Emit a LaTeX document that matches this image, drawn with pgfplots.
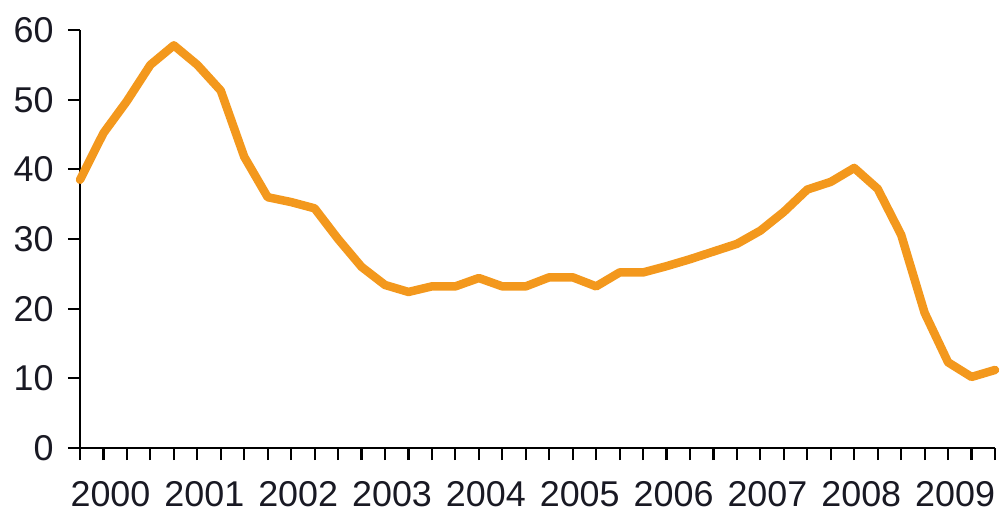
\documentclass[border=0pt]{standalone}
\usepackage{pgfplots}
\pgfplotsset{compat=1.18}
\usepackage{fontspec}
\setmainfont{Liberation Sans}
\definecolor{lineorange}{RGB}{243,152,29}
\definecolor{txt}{RGB}{25,25,35}
\begin{document}
\begin{tikzpicture}
\useasboundingbox (0,0) rectangle (1001bp,513bp);
\begin{axis}[
  at={(80bp,65bp)}, anchor=south west,
  scale only axis,
  width=915bp, height=418bp,
  xmin=0, xmax=39, ymin=0, ymax=60,
  axis x line*=bottom, axis y line*=left,
  axis line style={line width=2.2bp, color=black},
  every tick/.style={line width=2.2bp, color=black},
  tick align=outside,
  major tick length=12bp,
  xtick={0,...,39},
  xticklabels={},
  extra x ticks={1.3,5.3,9.3,13.3,17.3,21.3,25.3,29.3,33.3,37.3},
  extra x tick labels={2000,2001,2002,2003,2004,2005,2006,2007,2008,2009},
  extra x tick style={major tick length=0pt, tick label style={inner sep=0pt, yshift=-33bp}},
  ytick={0,10,20,30,40,50,60},
  /pgf/number format/assume math mode=true,
  tick label style={font=\fontsize{36}{42}\selectfont, text=txt},
  yticklabel style={xshift=-11bp},
  clip=false,
]
\addplot[color=lineorange, line width=8.5bp, line join=round, line cap=round] coordinates {
(0,38.5) (1,45.2) (2,49.8) (3,55.0) (4,57.8) (5,55.0) (6,51.3) (7,41.8)
(8,36.0) (9,35.3) (10,34.4) (11,30.0) (12,26.0) (13,23.4) (14,22.4) (15,23.2)
(16,23.2) (17,24.4) (18,23.2) (19,23.2) (20,24.5) (21,24.5) (22,23.2) (23,25.2)
(24,25.2) (25,26.1) (26,27.1) (27,28.2) (28,29.3) (29,31.2) (30,33.9) (31,37.1)
(32,38.2) (33,40.2) (34,37.2) (35,30.6) (36,19.4) (37,12.3) (38,10.2) (39,11.2)
};
\end{axis}
\end{tikzpicture}
\end{document}
